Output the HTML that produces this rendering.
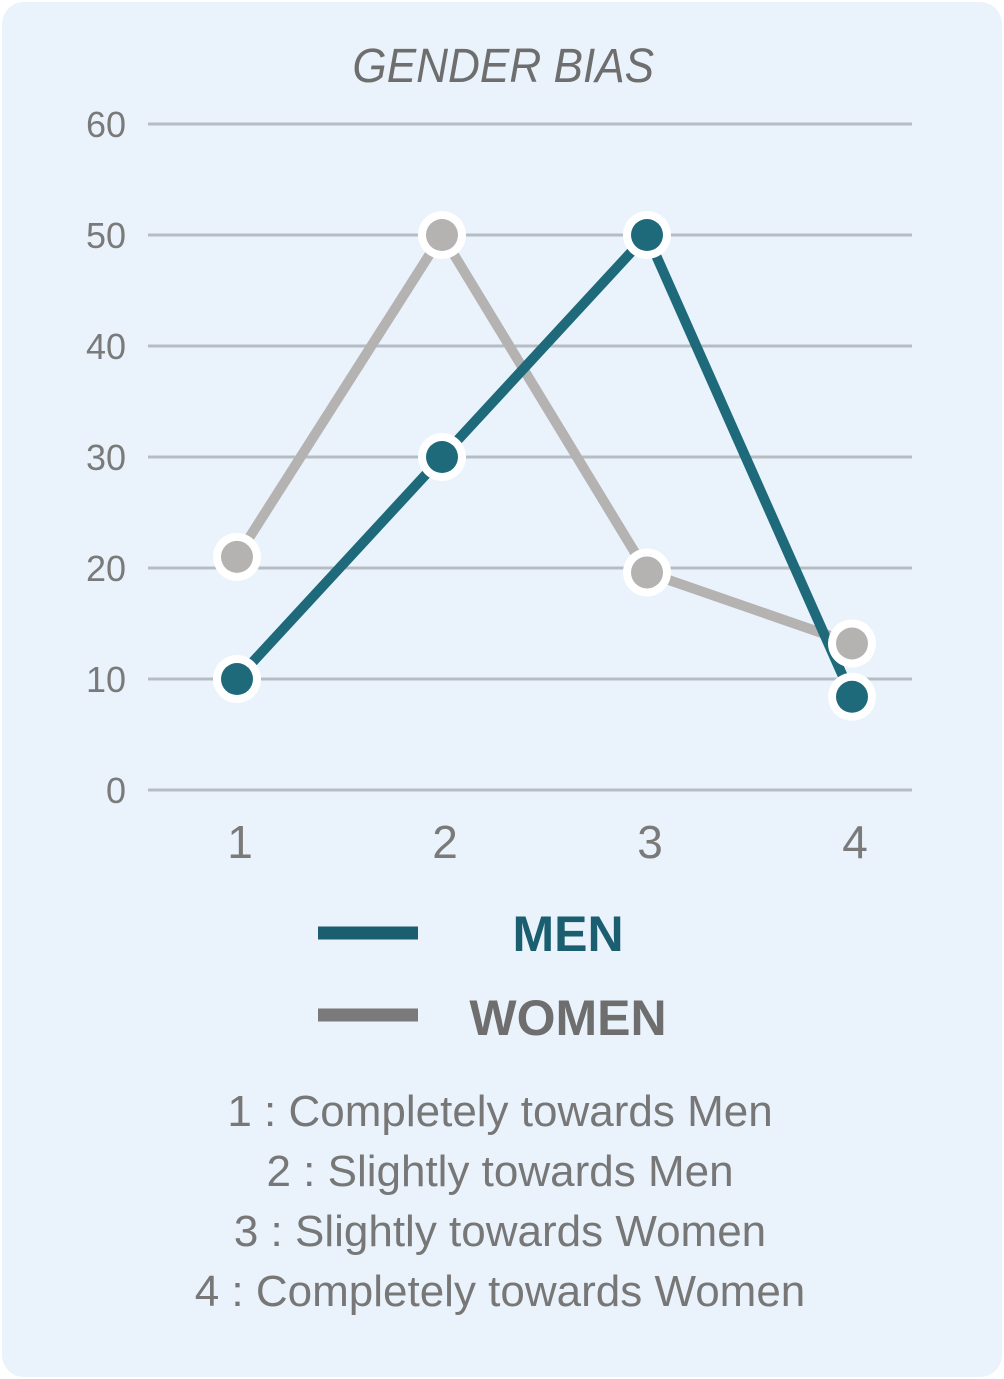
<!DOCTYPE html>
<html><head><meta charset="utf-8"><style>
html,body{margin:0;padding:0;background:#fff;}
body{width:1004px;height:1379px;overflow:hidden;}
.card{position:absolute;left:2px;top:2px;width:1000px;height:1375px;background:#eaf3fc;border-radius:22px;}
svg{position:absolute;left:0;top:0;}
.txt{font-family:"Liberation Sans",sans-serif;}
</style></head><body>
<div class="card"></div>
<svg id="chart" width="1004" height="1379">
<text x="503" y="82" text-anchor="middle" font-family="Liberation Sans, sans-serif" font-style="italic" font-size="48" fill="#6e6e6e" transform="scale(0.92,1) translate(44,0)">GENDER BIAS</text>
<g id="grid"></g><g id="series"></g>
<line x1="318" y1="933" x2="418" y2="933" stroke="#1a5e70" stroke-width="13"/>
<text x="568" y="951" text-anchor="middle" font-family="Liberation Sans, sans-serif" font-weight="bold" font-size="50" fill="#1a5e70">MEN</text>
<line x1="318" y1="1015" x2="418" y2="1015" stroke="#7a7a7a" stroke-width="13"/>
<text x="568" y="1035" text-anchor="middle" font-family="Liberation Sans, sans-serif" font-weight="bold" font-size="50" fill="#6e6e6e">WOMEN</text>
<g font-family="Liberation Sans, sans-serif" font-size="44" fill="#777" text-anchor="middle">
<text x="500" y="1126">1 : Completely towards Men</text>
<text x="500" y="1186">2 : Slightly towards Men</text>
<text x="500" y="1246">3 : Slightly towards Women</text>
<text x="500" y="1306">4 : Completely towards Women</text>
</g>
</svg>
<script>
const categories=["1","2","3","4"];
const yTicks=[0,10,20,30,40,50,60];
const menValues=[10,30,50,8.4];
const womenValues=[21,50,19.6,13.2];
const NS="http://www.w3.org/2000/svg";
const y=v=>790-v*11.1;
const x=i=>237+i*205;
function mk(tag,attrs,parent){const e=document.createElementNS(NS,tag);for(const k in attrs)e.setAttribute(k,attrs[k]);parent.appendChild(e);return e;}
const grid=document.getElementById('grid');
yTicks.forEach(t=>{
 const l=mk('line',{x1:148,x2:912,y1:y(t),y2:y(t),stroke:'#b7bcc4','stroke-width':3},grid);
 
 
 const tx=mk('text',{x:126,y:y(t)+13,'text-anchor':'end','font-family':'Liberation Sans, sans-serif','font-size':36,fill:'#7a7a7a'},grid);
 tx.textContent=t;
 
 
});
categories.forEach((c,i)=>{
 const tx=mk('text',{x:x(i)+3,y:858,'text-anchor':'middle','font-family':'Liberation Sans, sans-serif','font-size':46,fill:'#7a7a7a'},grid);
 tx.textContent=c;
 
 
});
const ser=document.getElementById('series');
function draw(vals,color,name){
 const pl=mk('polyline',{points:vals.map((v,i)=>x(i)+','+y(v)).join(' '),fill:'none',stroke:color,'stroke-width':10,'stroke-linejoin':'miter'},ser);
 
 
}
function dots(vals,color,name){
 vals.forEach((v,i)=>{
  mk('circle',{cx:x(i),cy:y(v),r:24,fill:'#fff'},ser);
  const c=mk('circle',{cx:x(i),cy:y(v),r:16,fill:color},ser);
  
  
 });
}
draw(womenValues,'#b5b2b2','women');
draw(menValues,'#1e6a7a','men');
dots(menValues,'#1e6a7a','men');
dots(womenValues,'#b5b2b2','women');
</script>
</body></html>
